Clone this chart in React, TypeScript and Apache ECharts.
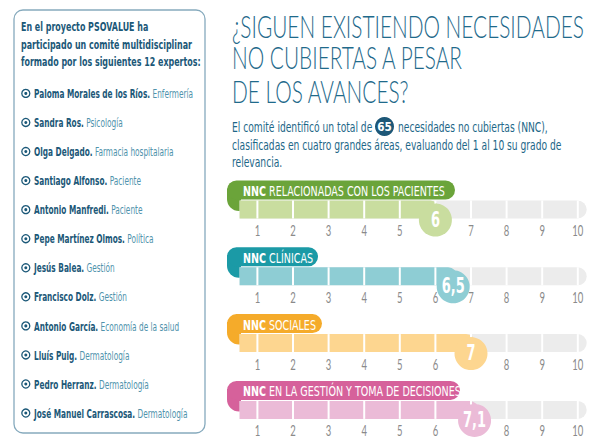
import React, { useEffect, useRef } from 'react';
import * as echarts from 'echarts';

// ---------- data ----------
const introLines = [
  'En el proyecto PSOVALUE ha',
  'participado un comité multidisciplinar',
  'formado por los siguientes 12 expertos:',
];
const expertNames = [
  'Paloma Morales de los Ríos', 'Sandra Ros', 'Olga Delgado', 'Santiago Alfonso',
  'Antonio Manfredi', 'Pepe Martínez Olmos', 'Jesús Balea', 'Francisco Dolz',
  'Antonio García', 'Lluís Puig', 'Pedro Herranz', 'José Manuel Carrascosa',
];
const expertRoles = [
  'Enfermería', 'Psicología', 'Farmacia hospitalaria', 'Paciente',
  'Paciente', 'Política', 'Gestión', 'Gestión',
  'Economía de la salud', 'Dermatología', 'Dermatología', 'Dermatología',
];
const titleLines = ['¿SIGUEN EXISTIENDO NECESIDADES', 'NO CUBIERTAS A PESAR', 'DE LOS AVANCES?'];
const paraBefore = 'El comité identificó un total de';
const totalNNC = '65';
const paraAfter = 'necesidades no cubiertas (NNC),';
const paraLines = [
  'clasificadas en cuatro grandes áreas, evaluando del 1 al 10 su grado de',
  'relevancia.',
];
const categoryPrefix = 'NNC';
const categories = [
  'RELACIONADAS CON LOS PACIENTES',
  'CLÍNICAS',
  'SOCIALES',
  'EN LA GESTIÓN Y TOMA DE DECISIONES',
];
const values = [6, 6.5, 7, 7.1];
const valueLabels = ['6', '6,5', '7', '7,1'];
const ticks = [1, 2, 3, 4, 5, 6, 7, 8, 9, 10];
const tickLabels = ['1', '2', '3', '4', '5', '6', '7', '8', '9', '10'];
const scaleMin = 0;
const scaleMax = 10.3;
const trackStart = 0.5;
const trackEnd = 10.25;

// ---------- styles ----------
const NARROW = '"Liberation Sans Narrow", "DejaVu Sans Condensed", "Roboto", sans-serif';
const TITLE_FONT = 'Lato, Roboto, sans-serif';
const TICK_FONT = 'Lato, Roboto, sans-serif';
const pillColors = ['#6ba43a', '#1b9aa6', '#f5ab2a', '#d6619b'];
const fillColors = ['#c9dd9f', '#8ecdd4', '#fdd690', '#ebbbd7'];
const TRACK_COLOR = '#ececec';
const DARK = '#1b5878';
const ROLE = '#4f93ac';
const TITLE_COLOR = '#1f6a8b';
const PARA_COLOR = '#1d6788';

let _ctx: CanvasRenderingContext2D | null = null;
function measure(text: string, weight: string | number, size: number, family: string) {
  if (!_ctx) _ctx = document.createElement('canvas').getContext('2d');
  _ctx!.font = `${weight} ${size}px ${family}`;
  return _ctx!.measureText(text).width;
}

export default function App() {
  const ref = useRef<HTMLDivElement>(null);
  useEffect(() => {
    if (!ref.current) return;
    const chart = echarts.init(ref.current, undefined, { renderer: 'svg' });

    const AXIS_LEFT = 221.8;
    const UNIT = 35.6;
    const TRACK_TOPS = [200.5, 267.3, 334.1, 400.9];
    const TRACK_H = 18;

    const titleScale = 352 / measure(titleLines[0], 300, 31, TITLE_FONT);
    const paraScale = 330 / measure(paraLines[0], 'normal', 14, NARROW);
    const introScale = 171 / measure(introLines[1], 'bold', 13, NARROW);
    const listScale =
      159 /
      (measure(expertNames[0] + '.', 'bold', 12, NARROW) +
        measure(' ' + expertRoles[0], 'normal', 12, NARROW));
    const pillScale =
      202 /
      (measure(categoryPrefix, 'bold', 14, NARROW) + measure(' ' + categories[0], 'normal', 14, NARROW));
    const tickScale = 11 / measure('10', 'normal', 16, TICK_FONT);
    const valueScale = 23 / measure('6,5', 'bold', 22, NARROW);

    const graphic: any[] = [];
    graphic.push({
      type: 'rect', z: 1,
      shape: { x: 14, y: 10, width: 191, height: 423, r: 9 },
      style: { fill: '#fff', stroke: '#86aabd', lineWidth: 1.3 },
    });
    introLines.forEach((t, i) => {
      graphic.push({
        type: 'text', z: 5, x: 21, y: 27.2 + 17.5 * i, scaleX: introScale,
        style: { text: t, x: 0, y: 0, fill: DARK, fontFamily: NARROW, fontWeight: 'bold', fontSize: 13, verticalAlign: 'middle' },
      });
    });
    expertNames.forEach((n, i) => {
      const y = 93.4 + 29.06 * i;
      graphic.push({ type: 'circle', z: 5, shape: { cx: 25.8, cy: y, r: 4 }, style: { fill: 'none', stroke: DARK, lineWidth: 1.3 } });
      graphic.push({ type: 'circle', z: 5, shape: { cx: 25.8, cy: y, r: 1.5 }, style: { fill: DARK } });
      graphic.push({
        type: 'text', z: 5, x: 34, y, scaleX: listScale,
        style: {
          text: `{b|${n}.}{r| ${expertRoles[i]}}`, x: 0, y: 0, verticalAlign: 'middle',
          rich: {
            b: { fill: DARK, fontFamily: NARROW, fontWeight: 'bold', fontSize: 12 },
            r: { fill: ROLE, fontFamily: NARROW, fontWeight: 'normal', fontSize: 12 },
          },
        },
      });
    });
    const titleY = [26, 57.7, 91];
    titleLines.forEach((t, i) => {
      graphic.push({
        type: 'text', z: 5, x: 232, y: titleY[i], scaleX: titleScale,
        style: { text: t, x: 0, y: 0, fill: TITLE_COLOR, fontFamily: TITLE_FONT, fontWeight: 300, fontSize: 31, verticalAlign: 'middle' },
      });
    });
    const paraStyle = { fill: PARA_COLOR, fontFamily: NARROW, fontSize: 14, verticalAlign: 'middle' };
    graphic.push({ type: 'text', z: 5, x: 232, y: 127.7, scaleX: paraScale, style: { ...paraStyle, text: paraBefore, x: 0, y: 0 } });
    graphic.push({ type: 'circle', z: 5, shape: { cx: 384.5, cy: 126.5, r: 9.5 }, style: { fill: '#1d5777' } });
    graphic.push({
      type: 'text', z: 6, x: 384.5, y: 127, scaleX: 0.9,
      style: { text: totalNNC, x: 0, y: 0, fill: '#fff', fontFamily: NARROW, fontWeight: 'bold', fontSize: 13, align: 'center', verticalAlign: 'middle' },
    });
    graphic.push({ type: 'text', z: 5, x: 398, y: 127.7, scaleX: paraScale, style: { ...paraStyle, text: paraAfter, x: 0, y: 0 } });
    paraLines.forEach((t, i) => {
      graphic.push({ type: 'text', z: 5, x: 232, y: 145.3 + 17.4 * i, scaleX: paraScale, style: { ...paraStyle, text: t, x: 0, y: 0 } });
    });
    const pillRights = [455, 318, 322, 460];
    categories.forEach((c, i) => {
      const T = TRACK_TOPS[i];
      graphic.push({ type: 'rect', z: 0, shape: { x: 227, y: T - 12, width: 14, height: 22.5, r: [0, 0, 0, 12] }, style: { fill: pillColors[i] } });
      graphic.push({ type: 'rect', z: 0, shape: { x: 227, y: T - 20, width: pillRights[i] - 227, height: 19, r: 9.5 }, style: { fill: pillColors[i] } });
      graphic.push({
        type: 'text', z: 1, x: 243, y: T - 9.5, scaleX: pillScale,
        style: {
          text: `{b|${categoryPrefix}}{r| ${c}}`, x: 0, y: 0, verticalAlign: 'middle',
          rich: {
            b: { fill: '#fff', fontFamily: NARROW, fontWeight: 'bold', fontSize: 14 },
            r: { fill: '#fff', fontFamily: NARROW, fontWeight: 'normal', fontSize: 14 },
          },
        },
      });
    });

    const grids = TRACK_TOPS.map((T) => ({ left: AXIS_LEFT, top: T, width: (scaleMax - scaleMin) * UNIT, height: TRACK_H }));
    const xAxes = TRACK_TOPS.map((_, i) => ({
      gridIndex: i, type: 'value', min: scaleMin, max: scaleMax, interval: 1,
      axisLine: { show: false }, axisTick: { show: false }, splitLine: { show: false },
      axisLabel: { show: false },
    }));
    const yAxes = TRACK_TOPS.map((_, i) => ({ gridIndex: i, type: 'category', data: ['x'], show: false }));
    const series = values.map((v, i) => ({
      type: 'custom', xAxisIndex: i, yAxisIndex: i, clip: false, silent: true, z: 2,
      data: [[v, 0]], encode: { x: 0, y: 1 },
      renderItem: (_p: any, api: any) => {
        const val = api.value(0) as number;
        const cy = api.coord([0, 0])[1];
        const top = cy - TRACK_H / 2;
        const xs = api.coord([trackStart, 0])[0];
        const xe = api.coord([trackEnd, 0])[0];
        const xv = api.coord([val, 0])[0];
        const children: any[] = [
          { type: 'rect', shape: { x: xs, y: top, width: xe - xs, height: TRACK_H, r: [0, 9, 9, 0] }, style: { fill: TRACK_COLOR } },
          { type: 'rect', shape: { x: xs, y: top, width: xv - xs + 4, height: TRACK_H, r: [0, 9, 9, 0] }, style: { fill: fillColors[i] } },
        ];
        ticks.forEach((k) => {
          const x = api.coord([k, 0])[0];
          children.push({ type: 'line', shape: { x1: x, y1: top, x2: x, y2: top + TRACK_H }, style: { stroke: '#fff', lineWidth: 2 } });
        });
        ticks.forEach((k, j) => {
          if (Math.abs(k - val) < 0.35) return; // hidden under the value bubble
          const x = api.coord([k, 0])[0];
          children.push({
            type: 'text', x, y: top + TRACK_H + 11.5, scaleX: tickScale,
            style: { text: tickLabels[j], x: 0, y: 0, align: 'center', verticalAlign: 'middle', fill: '#8a8a8a', fontFamily: TICK_FONT, fontWeight: 'normal', fontSize: 16 },
          });
        });
        children.push({ type: 'circle', shape: { cx: xv, cy: top + TRACK_H + 1.5, r: 16.5 }, style: { fill: fillColors[i] } });
        children.push({
          type: 'text', x: xv, y: top + TRACK_H + 0.5, scaleX: valueScale,
          style: { text: valueLabels[i], x: 0, y: 0, align: 'center', verticalAlign: 'middle', fill: '#fff', fontFamily: NARROW, fontWeight: 'bold', fontSize: 22 },
        });
        return { type: 'group', children };
      },
    }));

    chart.setOption({
      animation: false,
      grid: grids,
      xAxis: xAxes,
      yAxis: yAxes,
      series,
      graphic,
    });
    return () => chart.dispose();
  }, []);
  return <div ref={ref} style={{ position: 'absolute', left: 0, top: 0, width: 600, height: 448, background: '#fff' }} />;
}
